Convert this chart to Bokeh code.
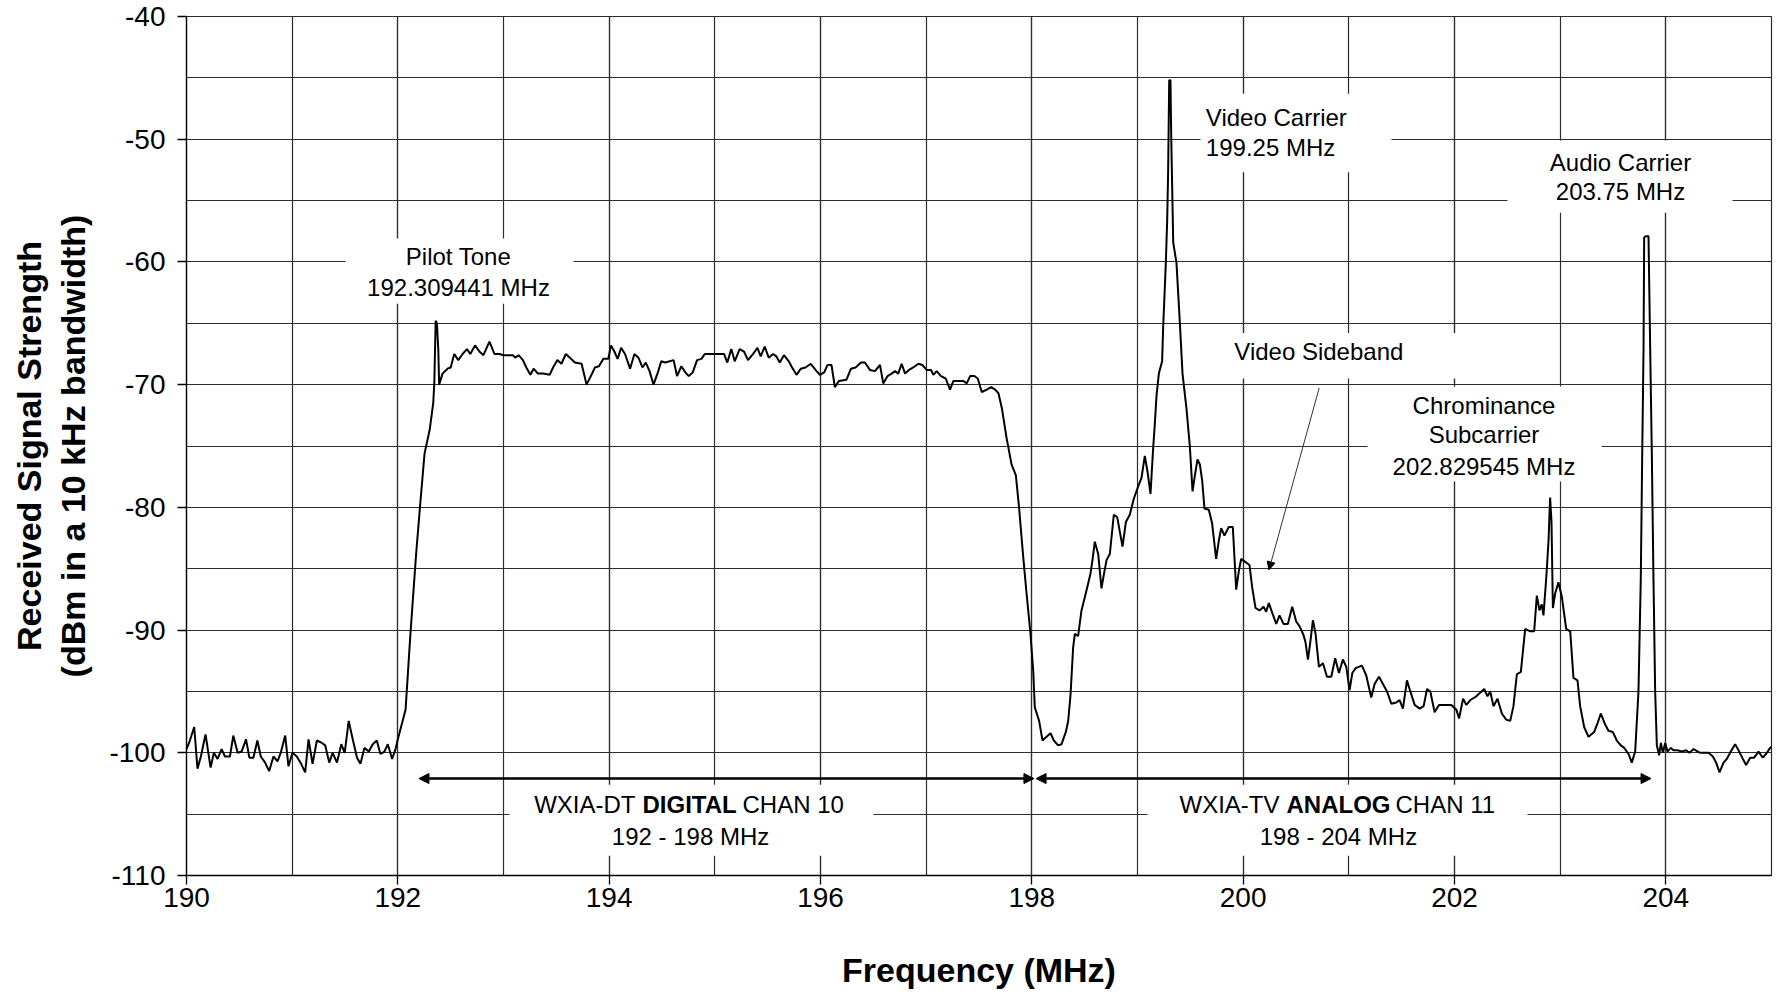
import numpy as np
from bokeh.plotting import figure
from bokeh.models import (Range1d, SingleIntervalTicker, Label, BoxAnnotation,
                          Arrow, NormalHead, ColumnDataSource)
from bokeh.embed import file_html
from bokeh.resources import INLINE

# ---------------- data (MHz, dBm) ----------------
floor_lo_mhz = [190.000, 190.032, 190.073, 190.104, 190.136, 190.180, 190.228, 190.259, 190.294, 190.332,
                190.364, 190.411, 190.443, 190.484, 190.522, 190.563, 190.595, 190.633, 190.671, 190.703,
                190.744, 190.782, 190.823, 190.861, 190.892, 190.934, 190.965, 191.003, 191.044, 191.085,
                191.123, 191.155, 191.193, 191.234, 191.282, 191.313, 191.351, 191.383, 191.424, 191.465,
                191.497, 191.535, 191.573, 191.614, 191.646, 191.684, 191.725, 191.763, 191.801, 191.835,
                191.873, 191.905, 191.946, 191.978, 192.000]
floor_lo_dbm = [-99.7, -99.0, -97.9, -101.3, -100.3, -98.5, -101.2, -100.0, -100.5, -99.7,
                -100.3, -100.3, -98.6, -100.0, -99.9, -98.9, -100.4, -100.4, -99.0, -100.3,
                -100.8, -101.5, -100.3, -100.7, -100.0, -98.6, -101.1, -100.0, -100.3, -100.9,
                -101.6, -98.9, -100.9, -99.0, -99.2, -99.4, -100.8, -100.0, -100.8, -99.3,
                -100.0, -97.4, -98.9, -100.4, -100.9, -99.6, -99.9, -99.3, -99.0, -100.1,
                -99.9, -99.3, -100.5, -99.7, -98.9]

digital_mhz = [192.073, 192.120, 192.174, 192.215, 192.253, 192.301, 192.335, 192.345, 192.358, 192.370,
               192.383, 192.391, 192.423, 192.470, 192.500, 192.534, 192.572, 192.613, 192.654, 192.686,
               192.731, 192.772, 192.810, 192.867, 192.914, 192.962, 193.000, 193.041, 193.089, 193.111,
               193.143, 193.184, 193.216, 193.254, 193.285, 193.326, 193.374, 193.437, 193.469, 193.510,
               193.548, 193.590, 193.628, 193.675, 193.739, 193.786, 193.827, 193.865, 193.903, 193.945,
               193.992, 194.017, 194.049, 194.080, 194.113, 194.150, 194.198, 194.239, 194.277, 194.315,
               194.347, 194.382, 194.420, 194.461, 194.493, 194.531, 194.610, 194.642, 194.683, 194.721,
               194.753, 194.791, 194.832, 194.873, 194.905, 194.975, 195.050, 195.087, 195.118, 195.156,
               195.188, 195.235, 195.276, 195.314, 195.362, 195.403, 195.434, 195.472, 195.510, 195.551,
               195.583, 195.614, 195.654, 195.700, 195.731, 195.773, 195.814, 195.858, 195.908, 195.953,
               195.994, 196.035, 196.066, 196.104, 196.136, 196.174, 196.246, 196.288, 196.332, 196.383,
               196.420, 196.468, 196.515, 196.563, 196.594, 196.635, 196.673, 196.705, 196.736, 196.768,
               196.800, 196.837, 196.878, 196.926, 196.964, 197.005, 197.046, 197.068, 197.100, 197.140,
               197.185, 197.226, 197.258, 197.305, 197.352, 197.384, 197.416, 197.457, 197.488, 197.526,
               197.574, 197.615, 197.653, 197.684, 197.716]
digital_dbm = [-96.5, -90.2, -83.7, -79.4, -75.6, -73.7, -71.5, -69.9, -64.8, -65.0,
               -67.2, -70.0, -69.1, -68.7, -68.6, -67.5, -68.0, -67.5, -67.1, -67.5,
               -66.8, -67.3, -67.6, -66.5, -67.5, -67.5, -67.6, -67.6, -67.6, -67.8,
               -67.6, -68.0, -68.6, -69.2, -68.7, -69.1, -69.1, -69.2, -68.6, -68.0,
               -68.3, -67.5, -67.8, -68.2, -68.3, -70.0, -69.3, -68.6, -68.5, -67.9,
               -67.9, -66.8, -67.3, -67.9, -67.0, -67.5, -68.7, -67.5, -67.8, -68.6,
               -68.2, -68.9, -70.0, -69.0, -68.1, -68.2, -68.0, -69.3, -68.5, -69.0,
               -69.3, -69.0, -68.0, -67.9, -67.5, -67.5, -67.5, -67.5, -68.2, -67.1,
               -68.1, -67.1, -67.3, -68.0, -67.5, -67.0, -67.7, -66.9, -67.8, -67.5,
               -67.7, -68.2, -67.6, -68.1, -68.6, -69.2, -68.7, -68.6, -68.3, -68.8,
               -69.2, -69.0, -68.4, -68.4, -70.2, -69.7, -69.6, -68.7, -68.6, -68.2,
               -68.2, -68.8, -68.9, -68.4, -69.9, -69.3, -69.1, -68.9, -69.1, -68.3,
               -69.1, -68.8, -68.6, -68.3, -68.4, -68.8, -68.8, -69.2, -68.9, -69.3,
               -69.5, -70.4, -69.7, -69.7, -69.7, -69.9, -69.3, -69.3, -69.5, -70.6,
               -70.4, -70.2, -70.4, -70.7, -71.9]

video_mhz = [197.760, 197.808, 197.849, 197.880, 197.918, 197.950, 197.987, 198.013, 198.028, 198.069,
             198.101, 198.139, 198.177, 198.208, 198.249, 198.281, 198.322, 198.344, 198.366, 198.391,
             198.407, 198.438, 198.470, 198.502, 198.533, 198.555, 198.574, 198.596, 198.628, 198.659,
             198.681, 198.707, 198.738, 198.776, 198.808, 198.858, 198.890, 198.927, 198.965, 199.006,
             199.038, 199.069, 199.095, 199.123, 199.148, 199.164, 199.180, 199.202, 199.233, 199.243,
             199.268, 199.281, 199.290, 199.300, 199.312, 199.319, 199.338, 199.369, 199.401, 199.426,
             199.464, 199.495, 199.521, 199.543, 199.568, 199.590]
video_dbm = [-74.3, -76.5, -77.4, -80.1, -84.0, -87.0, -90.3, -93.3, -96.3, -97.4,
             -99.0, -98.7, -98.4, -99.0, -99.4, -99.3, -98.3, -97.4, -95.3, -91.4,
             -90.3, -90.5, -88.4, -87.3, -86.2, -85.4, -84.3, -82.8, -83.8, -86.6,
             -85.5, -84.3, -83.8, -80.6, -80.8, -83.2, -81.2, -80.6, -79.3, -78.3,
             -77.6, -75.8, -77.1, -78.9, -75.2, -73.2, -70.9, -69.1, -68.1, -65.3,
             -60.1, -56.6, -52.6, -45.2, -45.2, -49.7, -58.4, -60.1, -65.0, -69.1,
             -72.0, -75.0, -78.7, -77.4, -76.1, -76.5]

sideband_mhz = [199.612, 199.634, 199.675, 199.706, 199.744, 199.770, 199.792, 199.823, 199.864, 199.902,
                199.934, 199.959, 199.981, 200.013, 200.060, 200.085, 200.117, 200.155, 200.193, 200.218,
                200.243, 200.275, 200.313, 200.344, 200.382, 200.423, 200.464, 200.502, 200.534, 200.571,
                200.590, 200.613, 200.635, 200.660, 200.685, 200.717, 200.755, 200.793, 200.834, 200.871,
                200.906, 200.944, 200.976, 201.007, 201.033, 201.064, 201.124, 201.165, 201.212, 201.244,
                201.285, 201.323, 201.361, 201.402, 201.449, 201.480, 201.512, 201.550, 201.582, 201.623,
                201.670, 201.708, 201.740, 201.771, 201.812, 201.853, 201.907, 201.970, 202.018, 202.043,
                202.081, 202.112, 202.150, 202.207]
sideband_dbm = [-77.8, -80.1, -80.2, -81.3, -84.2, -82.7, -81.7, -82.3, -81.6, -81.6,
                -86.7, -85.2, -84.2, -84.4, -84.7, -86.5, -88.2, -88.4, -88.1, -88.5,
                -87.8, -88.6, -89.5, -88.8, -89.5, -89.5, -88.1, -89.3, -89.7, -90.4,
                -91.0, -92.4, -91.0, -89.2, -90.3, -93.0, -92.7, -93.8, -93.8, -92.3,
                -93.5, -92.4, -93.0, -94.9, -93.5, -93.1, -92.9, -93.7, -95.5, -94.4,
                -93.8, -94.4, -95.0, -96.0, -95.9, -95.7, -96.4, -94.1, -95.0, -96.1,
                -96.4, -96.2, -94.8, -95.0, -96.7, -96.1, -96.1, -96.1, -96.5, -97.2,
                -95.6, -96.1, -95.7, -95.4]

carriers_mhz = [202.243, 202.281, 202.312, 202.338, 202.369, 202.407, 202.448, 202.489, 202.527, 202.558,
                202.590, 202.628, 202.669, 202.716, 202.754, 202.779, 202.804, 202.826, 202.842, 202.868,
                202.890, 202.905, 202.918, 202.931, 202.953, 202.984, 203.016, 203.057, 203.095, 203.126,
                203.164, 203.189, 203.227, 203.268, 203.322, 203.353, 203.385, 203.426, 203.457, 203.498,
                203.536, 203.574, 203.606, 203.647, 203.678, 203.710, 203.741, 203.763, 203.776, 203.789,
                203.795, 203.814, 203.836, 203.852, 203.868, 203.883, 203.899, 203.915, 203.937, 203.953,
                203.972, 203.994]
carriers_dbm = [-95.1, -94.8, -95.4, -95.0, -96.2, -95.6, -96.8, -97.3, -97.4, -96.2,
                -93.6, -93.4, -89.9, -90.1, -90.1, -87.2, -88.4, -87.9, -88.8, -85.8,
                -82.7, -79.2, -81.2, -88.2, -87.0, -86.1, -87.3, -89.9, -90.1, -93.9,
                -94.1, -96.2, -97.9, -98.7, -98.3, -97.6, -96.8, -97.7, -98.2, -98.3,
                -99.0, -99.4, -99.6, -100.1, -100.8, -99.9, -95.0, -85.8, -76.0, -67.1,
                -58.0, -57.9, -57.9, -67.1, -76.0, -85.8, -95.0, -99.4, -100.2, -99.2,
                -100.0, -99.2]

floor_hi_mhz = [204.016, 204.047, 204.073, 204.110, 204.151, 204.192, 204.224, 204.262, 204.325, 204.404,
                204.445, 204.476, 204.508, 204.546, 204.577, 204.615, 204.656, 204.688, 204.729, 204.760,
                204.798, 204.836, 204.877, 204.918, 204.956, 204.987, 205.000]
floor_hi_dbm = [-99.9, -99.6, -99.8, -99.8, -99.9, -99.8, -100.0, -99.7, -100.0, -100.0,
                -100.3, -100.8, -101.6, -100.8, -100.5, -99.9, -99.3, -99.8, -100.5, -101.0,
                -100.4, -100.4, -99.9, -100.4, -100.0, -99.6, -99.5]

y_tick_values = [-40, -50, -60, -70, -80, -90, -100, -110]
y_tick_labels = ["-40", "-50", "-60", "-70", "-80", "-90", "-100", "-110"]

FONT = "Liberation Sans"

freq = np.concatenate([floor_lo_mhz, digital_mhz, video_mhz, sideband_mhz, carriers_mhz, floor_hi_mhz])
level = np.concatenate([floor_lo_dbm, digital_dbm, video_dbm, sideband_dbm, carriers_dbm, floor_hi_dbm])
src = ColumnDataSource(dict(freq=freq, level=level))

p = figure(width=1776, height=991, output_backend="svg", toolbar_location=None,
           x_range=Range1d(190, 205), y_range=Range1d(-110, -40),
           min_border_left=186, min_border_right=5, min_border_top=16, min_border_bottom=115,
           background_fill_color="white", border_fill_color="white")

p.xaxis.ticker = SingleIntervalTicker(interval=2, num_minor_ticks=2)
p.yaxis.ticker = SingleIntervalTicker(interval=10, num_minor_ticks=2)
p.yaxis.major_label_overrides = {v: s for v, s in zip(y_tick_values, y_tick_labels)}

GRID = "#2e2e2e"
for g in (p.xgrid, p.ygrid):
    g.grid_line_color = GRID
    g.grid_line_width = 1.2
    g.minor_grid_line_color = GRID
    g.minor_grid_line_width = 1.2
p.outline_line_color = GRID
p.outline_line_width = 1.2

for ax in (p.xaxis, p.yaxis):
    ax.axis_line_color = "black"
    ax.axis_line_width = 1.3
    ax.major_tick_line_color = "black"
    ax.major_tick_line_width = 1.3
    ax.major_tick_out = 9
    ax.major_tick_in = 0
    ax.minor_tick_line_color = None
    ax.major_label_text_font = FONT
    ax.major_label_text_font_size = "28px"
    ax.major_label_text_color = "black"
    ax.axis_label_text_font = FONT
    ax.axis_label_text_font_style = "bold"
    ax.axis_label_text_font_size = "34px"
    ax.axis_label_text_color = "black"

p.xaxis.major_label_standoff = 3
p.yaxis.major_label_standoff = 12
p.xaxis.axis_label = "Frequency (MHz)"
p.xaxis.axis_label_standoff = 41
p.yaxis.axis_label = "Received Signal Strength\n(dBm in a 10 kHz bandwidth)"
p.yaxis.axis_label_text_line_height = 1.16
p.yaxis.axis_label_standoff = 14

p.line("freq", "level", source=src, line_color="black", line_width=2)

# ---------------- annotations ----------------
# white backing boxes (left, right, top, bottom)
boxes = [
    (191.505, 193.662, -58.1, -63.4),     # pilot tone
    (199.596, 201.404, -46.3, -52.7),     # video carrier
    (202.501, 204.631, -50.1, -56.0),     # audio carrier
    (199.738, 202.152, -65.8, -69.5),     # video sideband
    (201.177, 203.392, -70.15, -77.9),    # chrominance
    (193.057, 196.501, -102.6, -108.4),   # digital chan
    (199.094, 202.691, -102.6, -108.4),   # analog chan
]
for l, r, t, b in boxes:
    p.add_layout(BoxAnnotation(left=l, right=r, top=t, bottom=b, fill_color="white",
                               fill_alpha=1.0, line_color=None))


def lab(x, y, text, align="center", bold=False, xoff=0):
    p.add_layout(Label(x=x, y=y, text=text, x_offset=xoff, text_align=align, text_baseline="middle",
                       text_font=FONT, text_font_size="24px", text_color="black",
                       text_font_style="bold" if bold else "normal"))


lab(192.574, -59.58, "Pilot Tone")
lab(192.574, -62.09, "192.309441 MHz")
lab(199.647, -48.2, "Video Carrier", align="left")
lab(199.647, -50.64, "199.25 MHz", align="left")
lab(203.571, -51.86, "Audio Carrier")
lab(203.571, -54.30, "203.75 MHz")
lab(200.716, -67.32, "Video Sideband")
lab(202.279, -71.66, "Chrominance")
lab(202.279, -74.10, "Subcarrier")
lab(202.279, -76.68, "202.829545 MHz")

# digital channel label
lab(194.770, -104.22, "WXIA-DT", align="right", xoff=-55)
lab(194.770, -104.22, "DIGITAL", align="left", bold=True, xoff=-48)
lab(194.770, -104.22, "CHAN 10", align="left", xoff=52)
lab(194.770, -106.80, "192 - 198 MHz")
# analog channel label
lab(200.902, -104.22, "WXIA-TV", align="right", xoff=-59)
lab(200.902, -104.22, "ANALOG", align="left", bold=True, xoff=-52)
lab(200.902, -104.22, "CHAN 11", align="left", xoff=57)
lab(200.902, -106.80, "198 - 204 MHz")

# channel span arrows
for xs, xe in ((192.2, 198.02), (198.04, 203.86)):
    p.add_layout(Arrow(x_start=xs, y_start=-102.1, x_end=xe, y_end=-102.1, line_width=2.5,
                       line_color="black",
                       start=NormalHead(size=10, fill_color="black", line_color="black"),
                       end=NormalHead(size=10, fill_color="black", line_color="black")))

# video sideband pointer
p.add_layout(Arrow(x_start=200.719, y_start=-70.28, x_end=200.244, y_end=-85.09, line_width=1,
                   line_color="#333333",
                   end=NormalHead(size=8, fill_color="black", line_color="black")))

open("out.html", "w").write(file_html(p, INLINE))
